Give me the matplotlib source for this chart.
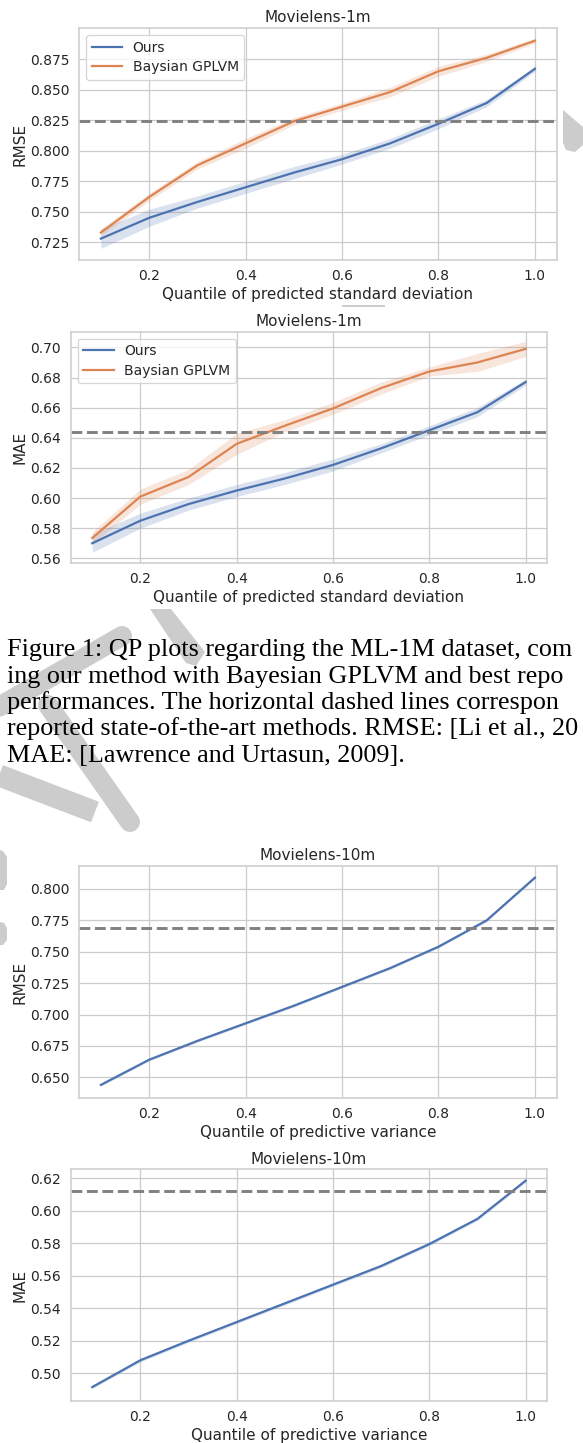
import matplotlib
matplotlib.use("Agg")
import matplotlib.pyplot as plt
import numpy as np
from matplotlib.lines import Line2D
from matplotlib.patches import Polygon
from matplotlib.transforms import Affine2D

# ---------------- data ----------------
quantiles = [0.1, 0.2, 0.3, 0.4, 0.5, 0.6, 0.7, 0.8, 0.9, 1.0]

ml1m_rmse_ours = [0.728, 0.745, 0.758, 0.770, 0.782, 0.793, 0.806, 0.822, 0.839, 0.867]
ml1m_rmse_ours_ci = [0.008, 0.007, 0.005, 0.005, 0.005, 0.004, 0.004, 0.004, 0.003, 0.002]
ml1m_rmse_gplvm = [0.733, 0.762, 0.788, 0.806, 0.824, 0.836, 0.848, 0.865, 0.876, 0.890]
ml1m_rmse_gplvm_ci = [0.003, 0.003, 0.003, 0.004, 0.003, 0.003, 0.004, 0.004, 0.003, 0.002]
ml1m_rmse_sota = 0.824

ml1m_mae_ours = [0.570, 0.585, 0.596, 0.605, 0.613, 0.622, 0.633, 0.645, 0.657, 0.677]
ml1m_mae_ours_ci = [0.006, 0.005, 0.004, 0.004, 0.004, 0.004, 0.003, 0.003, 0.003, 0.002]
ml1m_mae_gplvm = [0.5735, 0.601, 0.614, 0.636, 0.648, 0.6595, 0.673, 0.684, 0.690, 0.699]
ml1m_mae_gplvm_ci = [0.004, 0.005, 0.005, 0.007, 0.004, 0.004, 0.004, 0.003, 0.006, 0.005]
ml1m_mae_sota = 0.644

ml10m_rmse_ours = [0.644, 0.664, 0.679, 0.693, 0.707, 0.722, 0.737, 0.754, 0.775, 0.809]
ml10m_rmse_ours_ci = [0.001] * 10
ml10m_rmse_sota = 0.769

ml10m_mae_ours = [0.4915, 0.508, 0.520, 0.5315, 0.543, 0.5545, 0.566, 0.5795, 0.595, 0.6185]
ml10m_mae_ours_ci = [0.001] * 10
ml10m_mae_sota = 0.612

rmse_ticks_1m = [0.725, 0.750, 0.775, 0.800, 0.825, 0.850, 0.875]
mae_ticks_1m = [0.56, 0.58, 0.60, 0.62, 0.64, 0.66, 0.68, 0.70]
rmse_ticks_10m = [0.650, 0.675, 0.700, 0.725, 0.750, 0.775, 0.800]
mae_ticks_10m = [0.50, 0.52, 0.54, 0.56, 0.58, 0.60, 0.62]

# caption as visible in the (cropped) reference
caption_lines = [
    "Figure 1: QP plots regarding the ML-1M dataset, com",
    "ing our method with Bayesian GPLVM and best repo",
    "performances. The horizontal dashed lines correspon",
    "reported state-of-the-art methods. RMSE: [Li et al., 20",
    "MAE: [Lawrence and Urtasun, 2009].",
]

# ---------------- style ----------------
W, H = 583, 1443
DPI = 100
BLUE = "#4C72B0"
ORANGE = "#DD8452"
TXT = "#262626"
EDGE = "#cccccc"

plt.rcParams.update({
    "font.family": ["DejaVu Sans"],
    "axes.edgecolor": EDGE,
    "axes.linewidth": 1.1,
    "grid.color": EDGE,
    "grid.linewidth": 0.9,
    "text.color": TXT,
    "axes.labelcolor": TXT,
    "xtick.color": TXT,
    "ytick.color": TXT,
    "xtick.major.size": 0,
    "ytick.major.size": 0,
    "xtick.major.pad": 6.5,
    "ytick.major.pad": 7,
    "xtick.labelsize": 10,
    "ytick.labelsize": 10,
    "axes.labelsize": 11,
    "axes.titlesize": 11,
    "legend.fontsize": 10,
})

fig = plt.figure(figsize=(W / DPI, H / DPI), dpi=DPI)
fig.patch.set_facecolor("white")

pix = Affine2D().scale(1.0 / W, -1.0 / H).translate(0, 1) + fig.transFigure

# ---------------- watermark pieces ----------------
WM = "#cccccc"
def wm_line(xs, ys, wpx, cap="round"):
    ln = Line2D(xs, ys, transform=pix, color=WM, lw=wpx * 72.0 / DPI,
                solid_capstyle=cap, zorder=0)
    fig.add_artist(ln)

def wm_poly(pts):
    fig.add_artist(Polygon(pts, closed=True, transform=pix, color=WM, lw=0, zorder=0))

wm_poly([(563, 110), (583, 127), (583, 145), (575, 152), (566, 150), (563, 143)])
wm_poly([(342, 305), (385, 305), (385, 307), (342, 307)])
wm_poly([(150, 609), (171, 609), (205, 652), (196, 666), (186, 663)])
wm_line([122, -10], [636, 712], 20)
wm_line([48, 130], [705, 822], 20)
wm_line([-10, 95], [772, 812], 22, cap="butt")
wm_poly([(0, 850), (3, 851), (7, 857), (7, 884), (4, 890), (0, 890)])
wm_poly([(0, 922), (4, 923), (7, 928), (7, 940), (3, 945), (0, 945)])


def make_ax(l, t, r, b):
    ax = fig.add_axes([l / W, 1 - b / H, (r - l) / W, (b - t) / H])
    ax.set_facecolor("white")
    ax.grid(True)
    ax.set_axisbelow(True)
    for s in ax.spines.values():
        s.set_color(EDGE)
    ax.set_zorder(2)
    return ax


def series(ax, y, ci, color, label=None):
    y = np.asarray(y)
    ci = np.asarray(ci)
    ax.fill_between(quantiles, y - ci, y + ci, color=color, alpha=0.2, lw=0)
    ax.plot(quantiles, y, color=color, lw=1.6, label=label)


def finish(ax, yt, fmt, ylim, ylabel, xlabel, title):
    ax.set_xlim(0.055, 1.045)
    ax.set_xticks([0.2, 0.4, 0.6, 0.8, 1.0])
    ax.set_xticklabels(["0.2", "0.4", "0.6", "0.8", "1.0"])
    ax.set_yticks(yt)
    ax.set_yticklabels([fmt % v for v in yt])
    ax.set_ylim(*ylim)
    ax.set_ylabel(ylabel, labelpad=2)
    ax.set_xlabel(xlabel, labelpad=3)
    ax.set_title(title, pad=4)


def add_legend(ax):
    leg = ax.legend(loc="upper left", frameon=True, fancybox=True, handlelength=2.2,
                    handletextpad=0.75, borderpad=0.4, labelspacing=0.4,
                    framealpha=0.8)
    leg.get_frame().set_edgecolor(EDGE)
    leg.get_frame().set_linewidth(0.9)


def sota(ax, v):
    ax.axhline(v, color="#808080", ls="--", lw=2.1)


# Chart 1
ax1 = make_ax(79.2, 28, 556.6, 260)
series(ax1, ml1m_rmse_ours, ml1m_rmse_ours_ci, BLUE, "Ours")
series(ax1, ml1m_rmse_gplvm, ml1m_rmse_gplvm_ci, ORANGE, "Baysian GPLVM")
sota(ax1, ml1m_rmse_sota)
finish(ax1, rmse_ticks_1m, "%.3f", (0.7105, 0.9004), "RMSE",
       "Quantile of predicted standard deviation", "Movielens-1m")
add_legend(ax1)

# Chart 2
ax2 = make_ax(70.6, 331.7, 547.3, 563.3)
series(ax2, ml1m_mae_ours, ml1m_mae_ours_ci, BLUE, "Ours")
series(ax2, ml1m_mae_gplvm, ml1m_mae_gplvm_ci, ORANGE, "Baysian GPLVM")
sota(ax2, ml1m_mae_sota)
finish(ax2, mae_ticks_1m, "%.2f", (0.5567, 0.7104), "MAE",
       "Quantile of predicted standard deviation", "Movielens-1m")
add_legend(ax2)

# Chart 3
ax3 = make_ax(79.2, 866, 556.6, 1098.3)
series(ax3, ml10m_rmse_ours, ml10m_rmse_ours_ci, BLUE)
sota(ax3, ml10m_rmse_sota)
finish(ax3, rmse_ticks_10m, "%.3f", (0.6333, 0.8183), "RMSE",
       "Quantile of predictive variance", "Movielens-10m")

# Chart 4
ax4 = make_ax(70.6, 1169.3, 547.3, 1400.7)
series(ax4, ml10m_mae_ours, ml10m_mae_ours_ci, BLUE)
sota(ax4, ml10m_mae_sota)
finish(ax4, mae_ticks_10m, "%.2f", (0.4831, 0.6255), "MAE",
       "Quantile of predictive variance", "Movielens-10m")

# ---------------- caption ----------------
base = [656, 682.5, 709, 735.5, 762]
cap_texts = []
for yb, line in zip(base, caption_lines):
    t = fig.text(7 / W, 1 - yb / H, line, family=["Liberation Serif", "DejaVu Serif"],
                 fontsize=18.0, color="black", va="baseline", ha="left", zorder=5)
    cap_texts.append(t)

# fit the font size so the longest visible line ends just inside the right edge
fig.canvas.draw()
rend = fig.canvas.get_renderer()
widest = max(t.get_window_extent(rend).x1 for t in cap_texts)
fs = 18.0 * (580.0 - 7.0) / (widest - 7.0)
fs = min(fs, 18.8)
for t in cap_texts:
    t.set_fontsize(fs)

fig.savefig("out.png", dpi=DPI, facecolor="white")
